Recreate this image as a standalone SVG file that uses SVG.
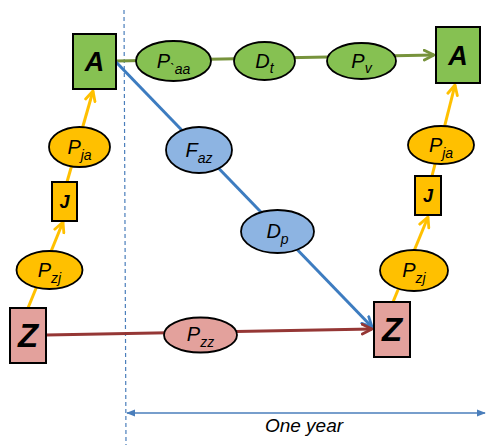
<svg xmlns="http://www.w3.org/2000/svg" width="487" height="445" viewBox="0 0 487 445">
  <style>
    .box { stroke: #000; stroke-width: 2; }
    .ell { stroke: #000; stroke-width: 1.8; }
    .green { fill: #86C152; }
    .yellow { fill: #FFC000; }
    .pink { fill: #E3A19C; }
    .blue { fill: #8DB4E2; }
    .big { font-family: "Liberation Sans", Arial, sans-serif; font-weight: bold; font-style: italic; text-anchor: middle; fill: #000; }
    .lbl { font-family: "Liberation Sans", Arial, sans-serif; font-style: italic; font-size: 20px; text-anchor: middle; fill: #000; }
    .sub { font-size: 14px; }
    .conn { fill: none; stroke-width: 3; }
  </style>
  <defs>
    <marker id="arrY" viewBox="0 0 12 12" refX="10.5" refY="6" markerWidth="13" markerHeight="13" markerUnits="userSpaceOnUse" orient="auto">
      <path d="M1.5,1.5 L10.5,6 L1.5,10.5" fill="none" stroke="#FFC000" stroke-width="2.6" stroke-linecap="round" stroke-linejoin="round"/>
    </marker>
    <marker id="arrG" viewBox="0 0 12 12" refX="10.5" refY="6" markerWidth="13" markerHeight="13" markerUnits="userSpaceOnUse" orient="auto">
      <path d="M1.5,1.5 L10.5,6 L1.5,10.5" fill="none" stroke="#77933C" stroke-width="2.6" stroke-linecap="round" stroke-linejoin="round"/>
    </marker>
    <marker id="arrB" viewBox="0 0 12 12" refX="10.5" refY="6" markerWidth="13" markerHeight="13" markerUnits="userSpaceOnUse" orient="auto">
      <path d="M1.5,1.5 L10.5,6 L1.5,10.5" fill="none" stroke="#3D7CC0" stroke-width="2.6" stroke-linecap="round" stroke-linejoin="round"/>
    </marker>
    <marker id="arrR" viewBox="0 0 12 12" refX="10.5" refY="6" markerWidth="13" markerHeight="13" markerUnits="userSpaceOnUse" orient="auto">
      <path d="M1.5,1.5 L10.5,6 L1.5,10.5" fill="none" stroke="#953735" stroke-width="2.6" stroke-linecap="round" stroke-linejoin="round"/>
    </marker>
    <marker id="dimArr" viewBox="0 0 10 10" refX="9" refY="5" markerWidth="9" markerHeight="9" markerUnits="userSpaceOnUse" orient="auto-start-reverse">
      <path d="M0,1 L10,5 L0,9 Z" fill="#4A7EBB"/>
    </marker>
  </defs>

  <!-- time axis: start marker and one-year span -->
  <g id="timeline">
    <line x1="124" y1="10" x2="126" y2="445" stroke="#4A7EBB" stroke-width="1.2" stroke-dasharray="4 3"/>
    <line x1="127" y1="413" x2="485" y2="413" stroke="#4A7EBB" stroke-width="1.5" marker-start="url(#dimArr)" marker-end="url(#dimArr)"/>
    <text x="304" y="432" font-family="'Liberation Sans', Arial, sans-serif" font-style="italic" font-size="19" text-anchor="middle" fill="#000">One year</text>
  </g>

  <!-- connectors -->
  <g id="connectors">
    <line class="conn" x1="28" y1="308" x2="63" y2="222" stroke="#FFC000" marker-end="url(#arrY)"/>
    <line class="conn" x1="67" y1="182" x2="93" y2="91" stroke="#FFC000" marker-end="url(#arrY)"/>
    <line class="conn" x1="393" y1="302" x2="428" y2="217" stroke="#FFC000" marker-end="url(#arrY)"/>
    <line class="conn" x1="432" y1="176" x2="455" y2="85" stroke="#FFC000" marker-end="url(#arrY)"/>
    <line class="conn" x1="116" y1="61" x2="434" y2="55" stroke="#77933C" marker-end="url(#arrG)"/>
    <line class="conn" x1="116" y1="62" x2="372" y2="327" stroke="#3D7CC0" marker-end="url(#arrB)"/>
    <line class="conn" x1="46" y1="335" x2="372" y2="329" stroke="#953735" marker-end="url(#arrR)"/>
  </g>

  <!-- left column -->
  <g id="A0">
    <rect class="box green" x="73" y="34" width="43" height="55"/>
    <text class="big" x="94.5" y="71" font-size="27">A</text>
  </g>
  <g id="Pja0">
    <ellipse class="ell yellow" cx="79.5" cy="147" rx="30.5" ry="20"/>
    <text class="lbl" x="79.5" y="154">P<tspan class="sub" dy="6">ja</tspan></text>
  </g>
  <g id="J0">
    <rect class="box yellow" x="52" y="182" width="25" height="39"/>
    <text class="big" x="64.5" y="208" font-size="18">J</text>
  </g>
  <g id="Pzj0">
    <ellipse class="ell yellow" cx="49.5" cy="270" rx="33" ry="19"/>
    <text class="lbl" x="49.5" y="277">P<tspan class="sub" dy="6">zj</tspan></text>
  </g>
  <g id="Z0">
    <rect class="box pink" x="10" y="308" width="36" height="55"/>
    <text class="big" x="28" y="347" font-size="33">Z</text>
  </g>

  <!-- transitions over the year -->
  <g id="Paa">
    <ellipse class="ell green" cx="173.5" cy="61" rx="37.5" ry="20"/>
    <text class="lbl" x="173.5" y="68">P<tspan class="sub" dy="6">`aa</tspan></text>
  </g>
  <g id="Dt">
    <ellipse class="ell green" cx="264.5" cy="61" rx="30.5" ry="19"/>
    <text class="lbl" x="264.5" y="68">D<tspan class="sub" dy="5">t</tspan></text>
  </g>
  <g id="Pv">
    <ellipse class="ell green" cx="361.5" cy="61" rx="34.5" ry="18"/>
    <text class="lbl" x="361.5" y="68">P<tspan class="sub" dy="5">v</tspan></text>
  </g>
  <g id="Faz">
    <ellipse class="ell blue" cx="199" cy="150" rx="33" ry="23"/>
    <text class="lbl" x="199" y="157">F<tspan class="sub" dy="6">az</tspan></text>
  </g>
  <g id="Dp">
    <ellipse class="ell blue" cx="277.5" cy="231.5" rx="36.5" ry="21.5"/>
    <text class="lbl" x="277.5" y="238">D<tspan class="sub" dy="6">p</tspan></text>
  </g>
  <g id="Pzz">
    <ellipse class="ell pink" cx="200.5" cy="335" rx="36.5" ry="17.5"/>
    <text class="lbl" x="200.5" y="341">P<tspan class="sub" dy="6">zz</tspan></text>
  </g>

  <!-- right column -->
  <g id="A1">
    <rect class="box green" x="436" y="27" width="44" height="56"/>
    <text class="big" x="458" y="65" font-size="27">A</text>
  </g>
  <g id="Pja1">
    <ellipse class="ell yellow" cx="441" cy="145" rx="33" ry="19"/>
    <text class="lbl" x="441" y="152">P<tspan class="sub" dy="6">ja</tspan></text>
  </g>
  <g id="J1">
    <rect class="box yellow" x="415" y="176" width="26" height="39"/>
    <text class="big" x="428" y="202" font-size="18">J</text>
  </g>
  <g id="Pzj1">
    <ellipse class="ell yellow" cx="414" cy="270.5" rx="34" ry="20.5"/>
    <text class="lbl" x="414" y="277">P<tspan class="sub" dy="6">zj</tspan></text>
  </g>
  <g id="Z1">
    <rect class="box pink" x="374" y="302" width="36" height="55"/>
    <text class="big" x="392" y="341" font-size="33">Z</text>
  </g>
</svg>
